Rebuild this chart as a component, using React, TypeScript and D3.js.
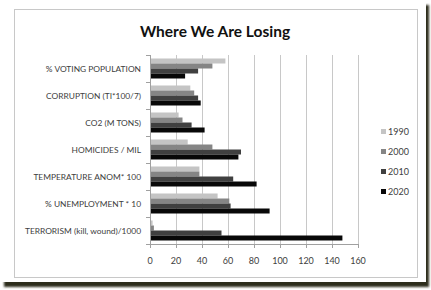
import React from "react";
import * as d3 from "d3";

const categories = [
  "% VOTING POPULATION",
  "CORRUPTION (TI*100/7)",
  "CO2 (M TONS)",
  "HOMICIDES / MIL",
  "TEMPERATURE ANOM* 100",
  "% UNEMPLOYMENT * 10",
  "TERRORISM (kill, wound)/1000",
];
const seriesNames = ["1990", "2000", "2010", "2020"];
const v1990 = [58, 31, 22, 29, 38, 52, 2];
const v2000 = [48, 34, 25, 48, 38, 61, 3];
const v2010 = [37, 37, 32, 70, 64, 62, 55];
const v2020 = [27, 39, 42, 68, 82, 92, 148];
const seriesValues = [v1990, v2000, v2010, v2020];
const xTicks = [0, 20, 40, 60, 80, 100, 120, 140, 160];
const title = "Where We Are Losing";

const colors = ["#c4c4c4", "#858585", "#404040", "#080808"];
const font = "Lato, 'Open Sans', sans-serif";

export default function App() {
  const x = d3.scaleLinear().domain([0, 160]).range([150, 358]);
  const y = d3.scaleBand<string>().domain(categories).range([55, 244]).padding(0);
  const inner = d3
    .scaleBand<string>()
    .domain(seriesNames)
    .range([3.5, y.bandwidth() - 3.5])
    .padding(0);
  const legendY = d3.scalePoint<string>().domain(seriesNames).range([132, 192]);

  return (
    <svg
      width={431}
      height={290}
      style={{ position: "absolute", left: 0, top: 0, background: "#fff" }}
    >
      <defs>
        <filter id="sh" x="-5%" y="-5%" width="110%" height="110%">
          <feGaussianBlur stdDeviation="1.2" />
        </filter>
      </defs>
      <rect x={0} y={0} width={431} height={290} fill="#fff" />
      <rect x={4} y={5} width={425} height={282} fill="#2e2d1c" filter="url(#sh)" />
      <rect x={0} y={0} width={426} height={282} fill="#fff" />
      <rect x={14.5} y={9.5} width={403} height={268} fill="#fff" stroke="#c8c8c8" strokeWidth={1} />

      <text
        x={215}
        y={37}
        textAnchor="middle"
        fontFamily={font}
        fontWeight="bold"
        fontSize={15.5}
        fill="#111"
      >
        {title}
      </text>

      {/* gridlines */}
      {xTicks.slice(1).map((t) => (
        <line
          key={"g" + t}
          x1={Math.round(x(t)) + 0.5}
          x2={Math.round(x(t)) + 0.5}
          y1={55}
          y2={244}
          stroke="#c8c8c8"
          strokeWidth={1}
        />
      ))}

      {/* bars */}
      {categories.map((c, ci) =>
        seriesNames.map((s, si) => (
          <rect
            key={c + s}
            x={x(0)}
            y={(y(c) as number) + (inner(s) as number)}
            width={x(seriesValues[si][ci]) - x(0)}
            height={inner.bandwidth()}
            fill={colors[si]}
          />
        ))
      )}

      {/* y axis */}
      <line x1={150.5} x2={150.5} y1={55} y2={244} stroke="#a0a0a0" />
      {[...categories.map((c) => y(c) as number), 244].map((yy, i) => (
        <line key={"yt" + i} x1={146} x2={150.5} y1={Math.round(yy) + 0.5} y2={Math.round(yy) + 0.5} stroke="#a0a0a0" />
      ))}
      {categories.map((c) => (
        <text
          key={"l" + c}
          x={141}
          y={(y(c) as number) + y.bandwidth() / 2 + 3}
          textAnchor="end"
          fontFamily={font}
          fontSize={8.4}
          fill="#404040"
        >
          {c}
        </text>
      ))}

      {/* x axis */}
      <line x1={150} x2={358} y1={244.5} y2={244.5} stroke="#a0a0a0" />
      {xTicks.map((t) => (
        <g key={"xt" + t}>
          <line
            x1={Math.round(x(t)) + 0.5}
            x2={Math.round(x(t)) + 0.5}
            y1={244}
            y2={248}
            stroke="#a0a0a0"
          />
          <text
            x={x(t)}
            y={264}
            textAnchor="middle"
            fontFamily={font}
            fontSize={9}
            fill="#404040"
          >
            {t}
          </text>
        </g>
      ))}

      {/* legend */}
      {seriesNames.map((s, si) => (
        <g key={"lg" + s}>
          <rect x={381} y={(legendY(s) as number) - 3} width={5} height={5} fill={colors[si]} />
          <text
            x={388}
            y={(legendY(s) as number) + 3}
            fontFamily={font}
            fontSize={9}
            fill="#404040"
          >
            {s}
          </text>
        </g>
      ))}
    </svg>
  );
}
